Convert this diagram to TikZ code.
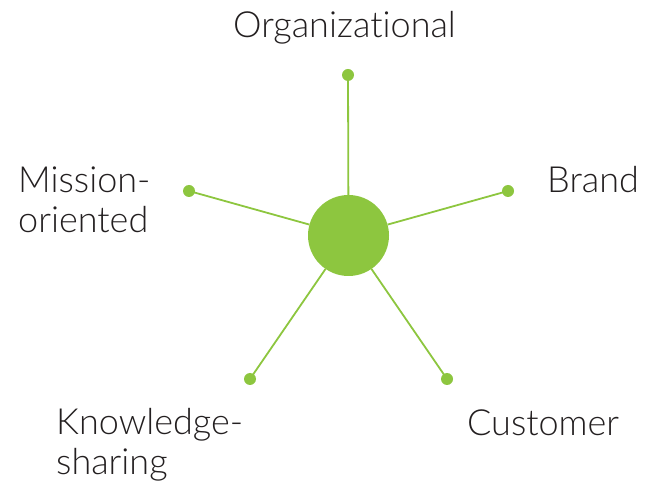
\documentclass[tikz,border=0pt]{standalone}
\usepackage{fontspec}
\setmainfont{Lato}[UprightFont=* Light,Ligatures={NoCommon}]
\definecolor{leaf}{HTML}{8DC63F}
\definecolor{ink}{HTML}{231F20}
\begin{document}
\begin{tikzpicture}[x=1pt,y=-1pt,
  spoke/.style={draw=leaf,line width=1.8pt},
  hub/.style={circle,fill=leaf,minimum size=81pt,inner sep=0pt},
  tip/.style={circle,fill=leaf,minimum size=12pt,inner sep=0pt},
  lbl/.style={text=ink,font=\fontsize{36}{40.5}\selectfont,inner sep=0pt,align=left}]
\useasboundingbox (0,0) rectangle (646,486);
\node[hub] (c) at (348.5,235.5) {};
\node[tip] (o) at (348,75) {};
\node[tip] (b) at (508,191) {};
\node[tip] (m) at (189,191) {};
\node[tip] (k) at (250,379) {};
\node[tip] (u) at (447,379) {};
\foreach \t in {o,b,m,k,u} \draw[spoke] (c) -- (\t.center);
\node[lbl,anchor=base] (to) at (344.5,38) {Organizational};
\node[lbl,anchor=base west] (tb) at (547,193) {Brand};
\node[lbl,anchor=base west] (tm) at (18,233) {Mission-\\oriented};
\node[lbl,anchor=base west] (tk) at (56,475) {Knowledge-\\sharing};
\node[lbl,anchor=base west] (tu) at (467,436) {Customer};
\end{tikzpicture}
\end{document}
